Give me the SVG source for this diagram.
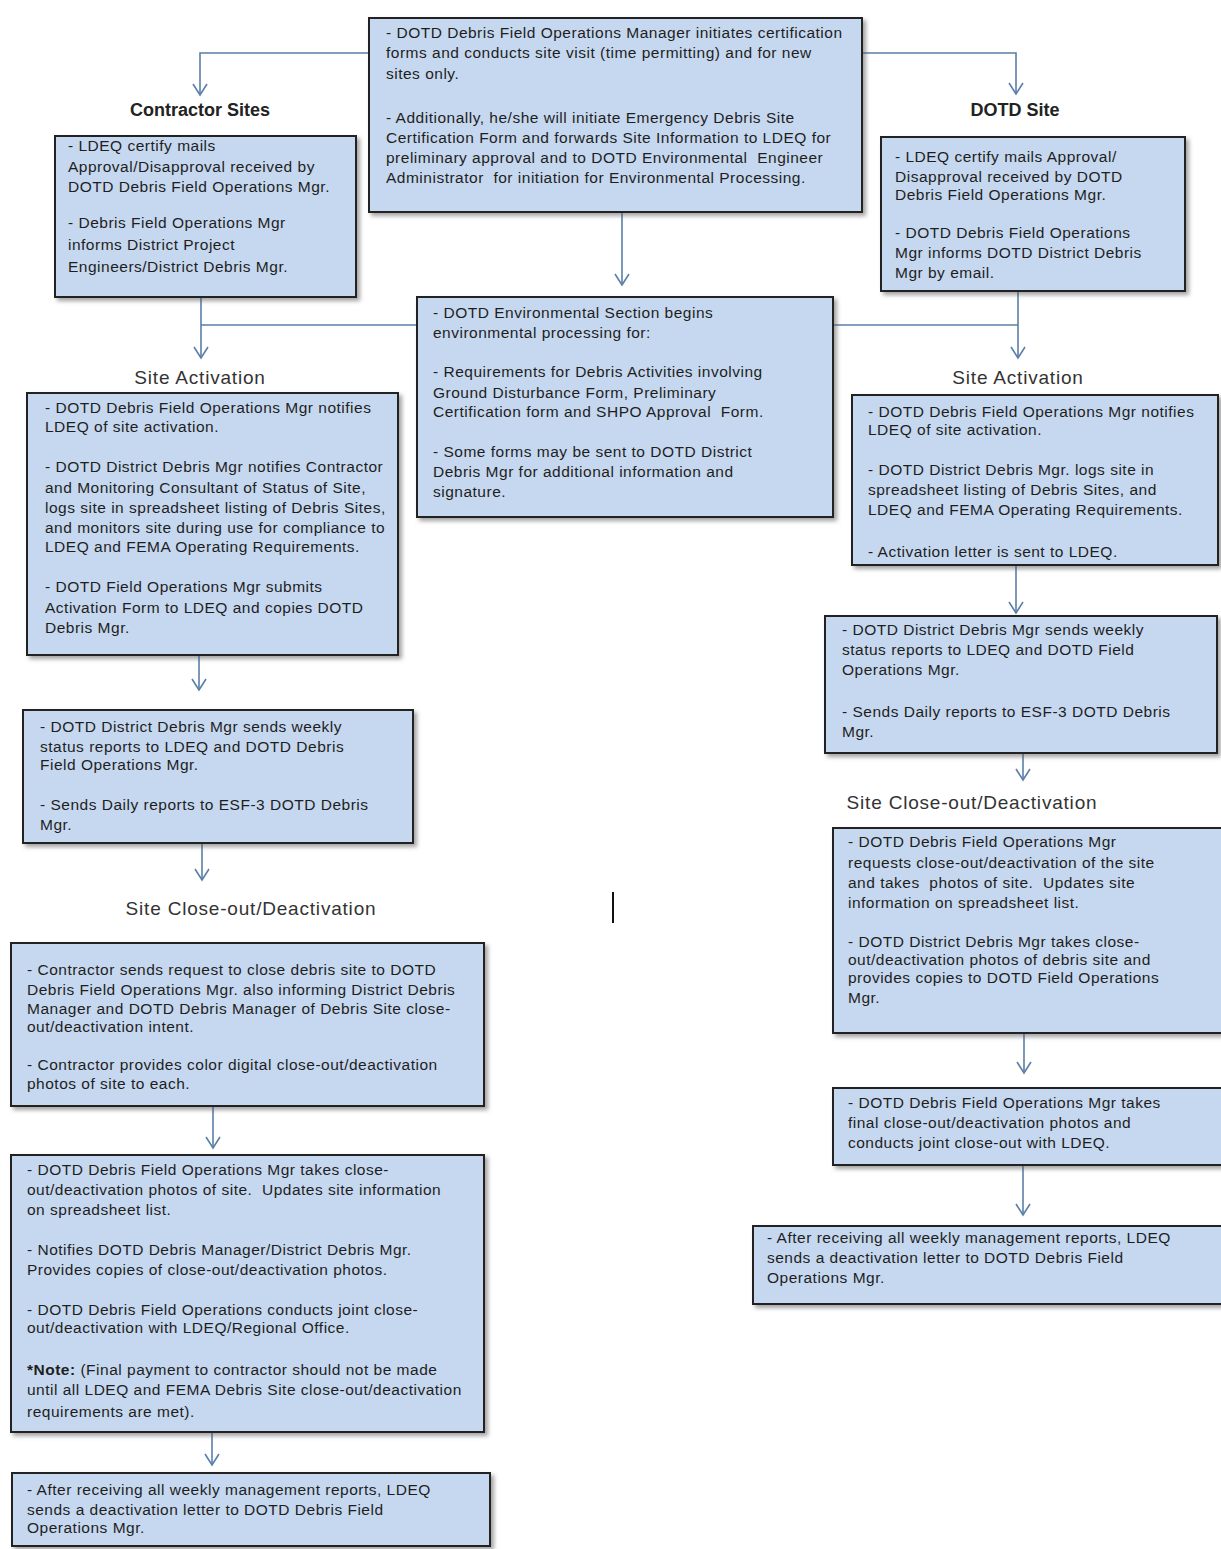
<svg xmlns="http://www.w3.org/2000/svg" width="1221" height="1549" viewBox="0 0 1221 1549" xml:space="preserve">
  <style>
    .box { fill: #c6d8ef; stroke: #222; stroke-width: 2; filter: url(#shadow); }
    .t { font-family: "Liberation Sans", Arial, sans-serif; font-size: 15.5px; letter-spacing: 0.5px; fill: #1e1e1e; white-space: pre; }
    .head { font-family: "Liberation Sans", Arial, sans-serif; font-size: 18px; font-weight: bold; fill: #222; text-anchor: middle; }
    .lbl { font-family: "Liberation Sans", Arial, sans-serif; font-size: 19px; letter-spacing: 0.8px; fill: #333; text-anchor: middle; }
    .conn { fill: none; stroke: #5b7fa8; stroke-width: 1.6; }
    .arr { fill: none; stroke: #5b7fa8; stroke-width: 1.6; marker-end: url(#chev); }
    .b { font-weight: bold; }
  </style>
  <defs>
    <filter id="shadow" x="-5%" y="-5%" width="112%" height="115%">
      <feDropShadow dx="3" dy="3" stdDeviation="2" flood-color="#555" flood-opacity="0.55"/>
    </filter>
    <marker id="chev" markerUnits="userSpaceOnUse" markerWidth="20" markerHeight="20" refX="0" refY="0" orient="auto" overflow="visible">
      <path d="M-11,-7 L0,0 L-11,7" fill="none" stroke="#5b7fa8" stroke-width="1.6"/>
    </marker>
  </defs>

  <rect width="1221" height="1549" fill="#ffffff"/>

  <!-- connectors -->
  <g id="connectors">
    <polyline class="arr" points="369,53 200,53 200,95"/>
    <polyline class="arr" points="862,53 1016,53 1016,94"/>
    <line class="arr" x1="622" y1="212" x2="622" y2="285"/>
    <line class="arr" x1="201" y1="297" x2="201" y2="358"/>
    <line class="conn" x1="201" y1="325" x2="417" y2="325"/>
    <line class="arr" x1="1018" y1="291" x2="1018" y2="358"/>
    <line class="conn" x1="833" y1="325" x2="1018" y2="325"/>
    <line class="arr" x1="199" y1="655" x2="199" y2="690"/>
    <line class="arr" x1="202" y1="843" x2="202" y2="880"/>
    <line class="arr" x1="213" y1="1106" x2="213" y2="1148"/>
    <line class="arr" x1="212" y1="1432" x2="212" y2="1465"/>
    <line class="arr" x1="1016" y1="565" x2="1016" y2="613"/>
    <line class="arr" x1="1023" y1="753" x2="1023" y2="780"/>
    <line class="arr" x1="1024" y1="1033" x2="1024" y2="1073"/>
    <line class="arr" x1="1023" y1="1165" x2="1023" y2="1215"/>
  </g>

  <!-- section headings -->
  <g id="labels">
    <text class="head" x="200" y="116">Contractor Sites</text>
    <text class="head" x="1015" y="116">DOTD Site</text>
    <text class="lbl" x="200" y="384">Site Activation</text>
    <text class="lbl" x="1018" y="384">Site Activation</text>
    <text class="lbl" x="251" y="915">Site Close-out/Deactivation</text>
    <text class="lbl" x="972" y="809">Site Close-out/Deactivation</text>
  </g>

  <!-- stray cursor mark -->
  <line x1="613" y1="892" x2="613" y2="923" stroke="#111" stroke-width="2"/>

  <g id="certification">
    <rect class="box" x="369" y="18" width="493" height="194"/>
    <text class="t" x="386" y="38">- DOTD Debris Field Operations Manager initiates certification</text>
    <text class="t" x="386" y="58">forms and conducts site visit (time permitting) and for new</text>
    <text class="t" x="386" y="79">sites only.</text>
    <text class="t" x="386" y="123">- Additionally, he/she will initiate Emergency Debris Site</text>
    <text class="t" x="386" y="143">Certification Form and forwards Site Information to LDEQ for</text>
    <text class="t" x="386" y="163">preliminary approval and to DOTD Environmental  Engineer</text>
    <text class="t" x="386" y="183">Administrator  for initiation for Environmental Processing.</text>
  </g>

  <g id="contractor-approval">
    <rect class="box" x="55" y="136" width="301" height="161"/>
    <text class="t" x="68" y="151">- LDEQ certify mails</text>
    <text class="t" x="68" y="172">Approval/Disapproval received by</text>
    <text class="t" x="68" y="192">DOTD Debris Field Operations Mgr.</text>
    <text class="t" x="68" y="228">- Debris Field Operations Mgr</text>
    <text class="t" x="68" y="250">informs District Project</text>
    <text class="t" x="68" y="272">Engineers/District Debris Mgr.</text>
  </g>

  <g id="dotd-approval">
    <rect class="box" x="881" y="137" width="304" height="154"/>
    <text class="t" x="895" y="162">- LDEQ certify mails Approval/</text>
    <text class="t" x="895" y="182">Disapproval received by DOTD</text>
    <text class="t" x="895" y="200">Debris Field Operations Mgr.</text>
    <text class="t" x="895" y="238">- DOTD Debris Field Operations</text>
    <text class="t" x="895" y="258">Mgr informs DOTD District Debris</text>
    <text class="t" x="895" y="278">Mgr by email.</text>
  </g>

  <g id="environmental">
    <rect class="box" x="417" y="297" width="416" height="220"/>
    <text class="t" x="433" y="318">- DOTD Environmental Section begins</text>
    <text class="t" x="433" y="338">environmental processing for:</text>
    <text class="t" x="433" y="377">- Requirements for Debris Activities involving</text>
    <text class="t" x="433" y="398">Ground Disturbance Form, Preliminary</text>
    <text class="t" x="433" y="417">Certification form and SHPO Approval  Form.</text>
    <text class="t" x="433" y="457">- Some forms may be sent to DOTD District</text>
    <text class="t" x="433" y="477">Debris Mgr for additional information and</text>
    <text class="t" x="433" y="497">signature.</text>
  </g>

  <g id="contractor-activation">
    <rect class="box" x="27" y="393" width="371" height="262"/>
    <text class="t" x="45" y="413">- DOTD Debris Field Operations Mgr notifies</text>
    <text class="t" x="45" y="432">LDEQ of site activation.</text>
    <text class="t" x="45" y="472">- DOTD District Debris Mgr notifies Contractor</text>
    <text class="t" x="45" y="493">and Monitoring Consultant of Status of Site,</text>
    <text class="t" x="45" y="513">logs site in spreadsheet listing of Debris Sites,</text>
    <text class="t" x="45" y="533">and monitors site during use for compliance to</text>
    <text class="t" x="45" y="552">LDEQ and FEMA Operating Requirements.</text>
    <text class="t" x="45" y="592">- DOTD Field Operations Mgr submits</text>
    <text class="t" x="45" y="613">Activation Form to LDEQ and copies DOTD</text>
    <text class="t" x="45" y="633">Debris Mgr.</text>
  </g>

  <g id="dotd-activation">
    <rect class="box" x="852" y="395" width="366" height="170"/>
    <text class="t" x="868" y="417">- DOTD Debris Field Operations Mgr notifies</text>
    <text class="t" x="868" y="435">LDEQ of site activation.</text>
    <text class="t" x="868" y="475">- DOTD District Debris Mgr. logs site in</text>
    <text class="t" x="868" y="495">spreadsheet listing of Debris Sites, and</text>
    <text class="t" x="868" y="515">LDEQ and FEMA Operating Requirements.</text>
    <text class="t" x="868" y="557">- Activation letter is sent to LDEQ.</text>
  </g>

  <g id="contractor-reports">
    <rect class="box" x="23" y="710" width="390" height="133"/>
    <text class="t" x="40" y="732">- DOTD District Debris Mgr sends weekly</text>
    <text class="t" x="40" y="752">status reports to LDEQ and DOTD Debris</text>
    <text class="t" x="40" y="770">Field Operations Mgr.</text>
    <text class="t" x="40" y="810">- Sends Daily reports to ESF-3 DOTD Debris</text>
    <text class="t" x="40" y="830">Mgr.</text>
  </g>

  <g id="dotd-reports">
    <rect class="box" x="825" y="616" width="392" height="137"/>
    <text class="t" x="842" y="635">- DOTD District Debris Mgr sends weekly</text>
    <text class="t" x="842" y="655">status reports to LDEQ and DOTD Field</text>
    <text class="t" x="842" y="675">Operations Mgr.</text>
    <text class="t" x="842" y="717">- Sends Daily reports to ESF-3 DOTD Debris</text>
    <text class="t" x="842" y="737">Mgr.</text>
  </g>

  <g id="contractor-closeout-request">
    <rect class="box" x="11" y="943" width="473" height="163"/>
    <text class="t" x="27" y="975">- Contractor sends request to close debris site to DOTD</text>
    <text class="t" x="27" y="995">Debris Field Operations Mgr. also informing District Debris</text>
    <text class="t" x="27" y="1014">Manager and DOTD Debris Manager of Debris Site close-</text>
    <text class="t" x="27" y="1032">out/deactivation intent.</text>
    <text class="t" x="27" y="1070">- Contractor provides color digital close-out/deactivation</text>
    <text class="t" x="27" y="1089">photos of site to each.</text>
  </g>

  <g id="contractor-closeout">
    <rect class="box" x="11" y="1155" width="473" height="277"/>
    <text class="t" x="27" y="1175">- DOTD Debris Field Operations Mgr takes close-</text>
    <text class="t" x="27" y="1195">out/deactivation photos of site.  Updates site information</text>
    <text class="t" x="27" y="1215">on spreadsheet list.</text>
    <text class="t" x="27" y="1255">- Notifies DOTD Debris Manager/District Debris Mgr.</text>
    <text class="t" x="27" y="1275">Provides copies of close-out/deactivation photos.</text>
    <text class="t" x="27" y="1315">- DOTD Debris Field Operations conducts joint close-</text>
    <text class="t" x="27" y="1333">out/deactivation with LDEQ/Regional Office.</text>
    <text class="t" x="27" y="1375"><tspan class="b">*Note:</tspan> (Final payment to contractor should not be made</text>
    <text class="t" x="27" y="1395">until all LDEQ and FEMA Debris Site close-out/deactivation</text>
    <text class="t" x="27" y="1417">requirements are met).</text>
  </g>

  <g id="contractor-deactivation-letter">
    <rect class="box" x="12" y="1473" width="478" height="73"/>
    <text class="t" x="27" y="1495">- After receiving all weekly management reports, LDEQ</text>
    <text class="t" x="27" y="1515">sends a deactivation letter to DOTD Debris Field</text>
    <text class="t" x="27" y="1533">Operations Mgr.</text>
  </g>

  <g id="dotd-closeout-request">
    <rect class="box" x="833" y="828" width="390" height="205"/>
    <text class="t" x="848" y="847">- DOTD Debris Field Operations Mgr</text>
    <text class="t" x="848" y="868">requests close-out/deactivation of the site</text>
    <text class="t" x="848" y="888">and takes  photos of site.  Updates site</text>
    <text class="t" x="848" y="908">information on spreadsheet list.</text>
    <text class="t" x="848" y="947">- DOTD District Debris Mgr takes close-</text>
    <text class="t" x="848" y="965">out/deactivation photos of debris site and</text>
    <text class="t" x="848" y="983">provides copies to DOTD Field Operations</text>
    <text class="t" x="848" y="1003">Mgr.</text>
  </g>

  <g id="dotd-closeout">
    <rect class="box" x="833" y="1088" width="390" height="77"/>
    <text class="t" x="848" y="1108">- DOTD Debris Field Operations Mgr takes</text>
    <text class="t" x="848" y="1128">final close-out/deactivation photos and</text>
    <text class="t" x="848" y="1148">conducts joint close-out with LDEQ.</text>
  </g>

  <g id="dotd-deactivation-letter">
    <rect class="box" x="753" y="1226" width="470" height="78"/>
    <text class="t" x="767" y="1243">- After receiving all weekly management reports, LDEQ</text>
    <text class="t" x="767" y="1263">sends a deactivation letter to DOTD Debris Field</text>
    <text class="t" x="767" y="1283">Operations Mgr.</text>
  </g>
</svg>
